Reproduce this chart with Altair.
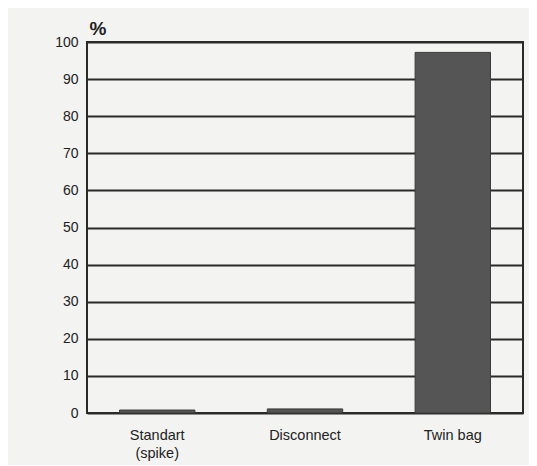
import altair as alt
import pandas as pd

categories = ["Standart\n(spike)", "Disconnect", "Twin bag"]
values = [0.8, 1.1, 97.2]
y_ticks = [0, 10, 20, 30, 40, 50, 60, 70, 80, 90, 100]

df = pd.DataFrame({"cat": categories, "val": values})

chart = alt.Chart(df).mark_bar(color="#555555", stroke="#3a3a3a", strokeWidth=1).encode(
    x=alt.X("cat:N", sort=categories, title=None,
            scale=alt.Scale(paddingInner=0.49, paddingOuter=0.22),
            axis=alt.Axis(labelAngle=0, labelExpr="split(datum.label, '\\n')",
                          labelFont="Liberation Sans", labelFontSize=14.5, labelColor="#222222",
                          labelPadding=15, ticks=False, domain=False, labelLineHeight=18)),
    y=alt.Y("val:Q", title="%", scale=alt.Scale(domain=[0, 100], nice=False),
            axis=alt.Axis(values=y_ticks, grid=True, gridColor="#2a2a2a", gridWidth=1.8,
                          ticks=False, domain=False, labelFont="Liberation Sans", labelFontSize=14,
                          labelColor="#222222", labelPadding=9,
                          titleAngle=0, titleAlign="left", titleBaseline="bottom",
                          titleX=2, titleY=-4, titleFont="Liberation Sans", titleFontSize=19,
                          titleFontWeight="bold", titleColor="#222222")),
).properties(
    width=436, height=371,
    background="#f3f3f1",
    autosize=alt.AutoSizeParams(type="none"),
    padding={"left": 79, "top": 34, "right": 6, "bottom": 52},
).configure_view(stroke="#2a2a2a", strokeWidth=2, fill="#f3f3f1")

chart.save("out.html", embed_options={"renderer": "svg", "actions": False})
